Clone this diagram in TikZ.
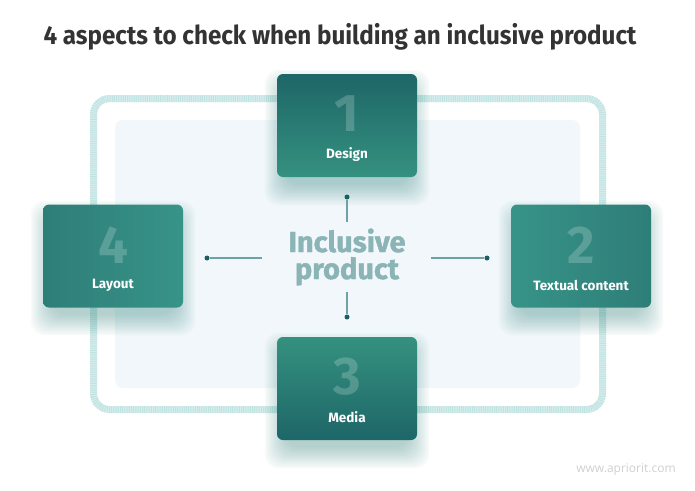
\documentclass[tikz,border=0pt]{standalone}
\usepackage{fontspec}
\setmainfont{Fira Sans}
\newfontfamily\titlefont[FakeStretch=0.93]{Fira Sans}
\newfontfamily\centerfont[FakeBold=1.3]{Fira Sans}
\newfontfamily\webfont{Open Sans}
\definecolor{titlec}{HTML}{333333}
\definecolor{framec}{HTML}{D6EEED}
\definecolor{framed}{HTML}{A6D6D3}
\definecolor{panelc}{HTML}{F1F7FA}
\definecolor{tdark}{HTML}{1E6668}
\definecolor{tmid}{HTML}{2E7E78}
\definecolor{tlight}{HTML}{35917F}
\definecolor{tlight2}{HTML}{379388}
\definecolor{glowc}{HTML}{3F8F8A}
\definecolor{centerc}{HTML}{8BB4B6}
\definecolor{linec}{HTML}{6FA2A4}
\definecolor{dotc}{HTML}{1C5F63}
\definecolor{webc}{HTML}{D0D0D0}
\newcommand\glowat[4]{%
  \foreach \i in {1,...,16}{%
    \fill[glowc, opacity=0.028, rounded corners=14pt]
      (#1+10-1.4*\i,#2+18-1.4*\i) rectangle (#3-10+1.4*\i,#4+6+1.4*\i);
  }}
\tikzset{
  box/.style={minimum width=140pt, minimum height=103pt, inner sep=0pt,
    rounded corners=6pt, draw=none},
  digit/.style={font=\fontsize{53}{53}\selectfont\bfseries, text=white,
    text opacity=0.2, inner sep=0pt},
  lbl/.style={font=\fontsize{13.5}{15}\selectfont\bfseries, text=white, inner sep=0pt},
  conn/.style={draw=linec, line width=1.2pt},
  dotn/.style={circle, fill=dotc, inner sep=0pt, minimum size=5pt},
}
\begin{document}
\begin{tikzpicture}[x=1pt,y=-1pt]
\useasboundingbox (0,0) rectangle (695,490);
\fill[white] (0,0) rectangle (695,490);
\node[text=titlec, inner sep=0pt] (title) at (340,37)
  {\titlefont\bfseries\fontsize{26}{30}\selectfont 4 aspects to check when building an inclusive product};
% frame
\draw[line width=7pt, framec, rounded corners=16pt] (93.5,98.5) rectangle (602.5,409.5);
\draw[line width=7pt, framed, opacity=0.45, dash pattern=on 1pt off 1.2pt, rounded corners=16pt] (93.5,98.5) rectangle (602.5,409.5);
% panel
\fill[panelc, rounded corners=8pt] (115,120) rectangle (580,388);
% glows
\glowat{277}{74}{417}{177}
\glowat{43}{205}{183}{307}
\glowat{511}{205}{651}{307}
\glowat{277}{337}{417}{440}
% boxes
\node[box, top color=tdark, bottom color=tlight] (design) at (347,125.5) {};
\node[digit] (d1) at (347,114) {1};
\node[lbl] (l1) at (347,155) {Design};
\node[box, left color=tmid, right color=tlight2] (layout) at (113,256) {};
\node[digit] (d4) at (113,245) {4};
\node[lbl] (l4) at (113,285) {Layout};
\node[box, left color=tlight2, right color=tmid] (textual) at (581,256) {};
\node[digit] (d2) at (581,245) {2};
\node[lbl] (l2) at (581,285) {Textual content};
\node[box, top color=tlight, bottom color=tdark] (media) at (347,388.5) {};
\node[digit] (d3) at (347,377) {3};
\node[lbl] (l3) at (347,417) {Media};
% center
\node[text=centerc, align=center, inner sep=0pt,
  font=\centerfont\fontsize{29}{27}\selectfont\bfseries] (center) at (347,257) {Inclusive\\product};
% connectors
\node[dotn] (dt) at (347,197) {};
\coordinate (dtE) at (347,222);
\node[dotn] (db) at (347,317) {};
\coordinate (dbE) at (347,292);
\node[dotn] (dl) at (207,258) {};
\coordinate (dlE) at (262,258);
\node[dotn] (dr) at (487,258) {};
\coordinate (drE) at (431,258);
\draw[conn] (dt) -- (dtE);
\draw[conn] (db) -- (dbE);
\draw[conn] (dl) -- (dlE);
\draw[conn] (dr) -- (drE);
% watermark
\node[text=webc, inner sep=0pt, font=\webfont\fontsize{12}{14}\selectfont] (web) at (626,470) {www.apriorit.com};
\end{tikzpicture}
\end{document}
